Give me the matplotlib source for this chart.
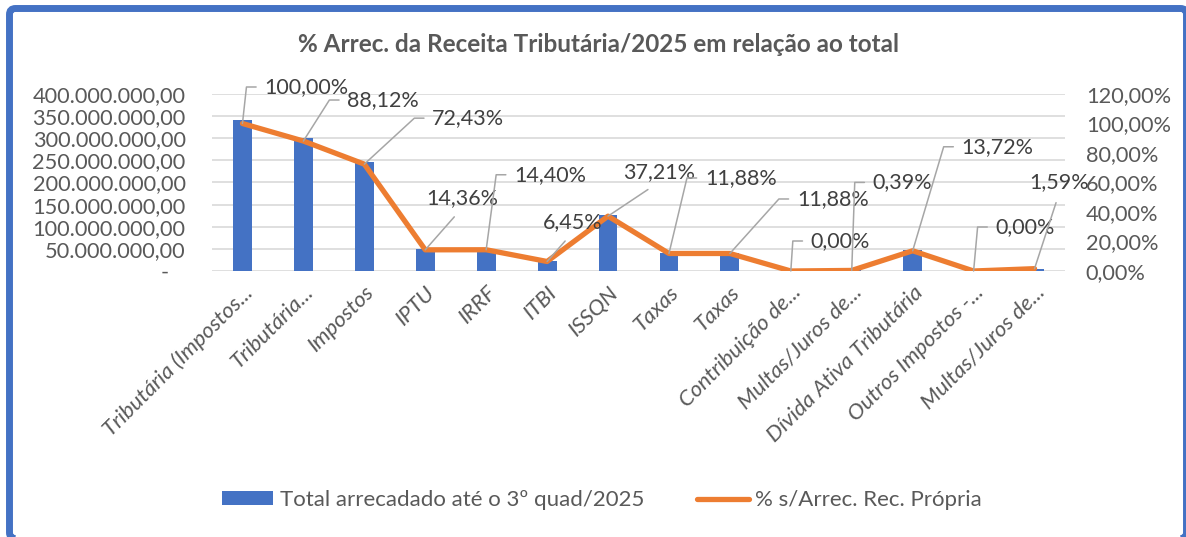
import numpy as np
import matplotlib
matplotlib.use("Agg")
import matplotlib.pyplot as plt
from matplotlib.patches import FancyBboxPatch
from matplotlib.transforms import IdentityTransform
from matplotlib.ticker import FuncFormatter

plt.rcParams['font.family'] = ['Lato', 'DejaVu Sans']

# dados
categorias = ["Tributária (Impostos...", "Tributária...", "Impostos", "IPTU", "IRRF",
              "ITBI", "ISSQN", "Taxas", "Taxas", "Contribuição de...",
              "Multas/Juros de...", "Dívida Ativa Tributária", "Outros Impostos -...",
              "Multas/Juros de..."]
total_arrecadado = [341.0e6, 300.5e6, 247.0e6, 49.0e6, 49.1e6, 22.0e6, 126.9e6,
                    40.5e6, 40.5e6, 0.0, 1.3e6, 46.8e6, 0.0, 5.4e6]
perc_rec_propria = [100.00, 88.12, 72.43, 14.36, 14.40, 6.45, 37.21,
                    11.88, 11.88, 0.00, 0.39, 13.72, 0.00, 1.59]

# posição dos rótulos (deslocamento em pixels a partir do ponto)
# (dx, dy, tipo): 'e' = linha com cotovelo, 's' = linha reta até a base do texto
rotulos_pos = [(22, 36.5, 'e'), (44, 41, 'e'), (68, 46, 'e'), (37, 52, 's'),
               (28, 75, 'e'), (26, 39.5, 's'), (51, 44, 's'), (36, 75.5, 'e'),
               (67, 54.5, 'e'), (20, 30, 'e'), (21, 88, 'e'), (49, 104, 'e'),
               (22, 44, 'e'), (25, 86.7, 's')]

azul = '#4472C4'
laranja = '#ED7D31'
cinza_txt = '#595959'
cinza_lbl = '#404040'

W, H = 1186, 537
fig = plt.figure(figsize=(W / 100, H / 100), dpi=100)

L, R, T, B = 212, 1065, 94, 271
ax = fig.add_axes([L / W, 1 - B / H, (R - L) / W, (B - T) / H])
ax2 = ax.twinx()

x = np.arange(len(categorias))

ax.bar(x, total_arrecadado, width=0.31, color=azul, zorder=2,
       label='Total arrecadado até o 3º quad/2025')
ax.set_xlim(-0.5, len(categorias) - 0.5)
ax.set_ylim(0, 400e6)
ax.set_yticks(np.arange(0, 400e6 + 1, 50e6))


def fmt_reais(v, pos):
    if v == 0:
        return '-   '
    s = f"{v:,.2f}"
    return s.replace(',', 'X').replace('.', ',').replace('X', '.')


ax.yaxis.set_major_formatter(FuncFormatter(fmt_reais))
ax.grid(axis='y', color='#D9D9D9', linewidth=1.2, zorder=0)
ax.set_axisbelow(True)
for s in ax.spines.values():
    s.set_visible(False)
for s in ax2.spines.values():
    s.set_visible(False)
ax.tick_params(axis='y', length=0, pad=19, labelsize=15.7, labelcolor=cinza_txt)
ax.set_xticks(x)
ax.set_xticklabels(categorias, rotation=45, ha='right', rotation_mode='anchor',
                   fontstyle='italic', fontsize=16, color=cinza_txt)
ax.tick_params(axis='x', length=0, pad=8)

frac = np.array(perc_rec_propria) / 100
ax2.plot(x, frac, color=laranja, linewidth=3.8, solid_joinstyle='round',
         solid_capstyle='round', zorder=3, label='% s/Arrec. Rec. Própria')
ax2.set_ylim(0, 1.2)
ax2.set_yticks(np.arange(0, 1.21, 0.2))
ax2.yaxis.set_major_formatter(FuncFormatter(lambda v, p: f"{v * 100:.2f}%".replace('.', ',')))
ax2.tick_params(axis='y', length=0, pad=15, labelsize=15.7, labelcolor=cinza_txt)

# rótulos de dados com linhas de chamada
for i, (v, (dx, dy, tipo)) in enumerate(zip(perc_rec_propria, rotulos_pos)):
    txt = f"{v:.2f}%".replace('.', ',')
    if tipo == 'e':
        ang = np.degrees(np.arctan2(dy, dx - 18))
        ax2.annotate(txt, xy=(i, v / 100), xytext=(dx, dy), textcoords='offset pixels',
                     ha='left', va='center', fontsize=15.5, color=cinza_lbl,
                     annotation_clip=False, zorder=5,
                     arrowprops=dict(arrowstyle='-', color='#A6A6A6', lw=1.1,
                                     relpos=(0, 0.5), shrinkA=4, shrinkB=0,
                                     connectionstyle=f"angle,angleA=0,angleB={ang:.2f},rad=0"))
    else:
        ax2.annotate(txt, xy=(i, v / 100), xytext=(dx, dy), textcoords='offset pixels',
                     ha='center', va='center', fontsize=15.5, color=cinza_lbl,
                     annotation_clip=False, zorder=5,
                     arrowprops=dict(arrowstyle='-', color='#A6A6A6', lw=1.1,
                                     relpos=(0.5, 0), shrinkA=6, shrinkB=0))

fig.text(598 / W, 1 - 45 / H, '% Arrec. da Receita Tributária/2025 em relação ao total',
         ha='center', va='center', fontsize=17.5, fontweight='bold', color=cinza_txt)

h1, l1 = ax.get_legend_handles_labels()
h2, l2 = ax2.get_legend_handles_labels()
fig.legend(h1 + h2, l1 + l2, loc='center', bbox_to_anchor=(602 / W, 1 - 500 / H),
           ncol=2, frameon=False, fontsize=16, labelcolor=cinza_txt,
           handlelength=2.3, handleheight=0.6, handletextpad=0.3, columnspacing=2.4)

# moldura azul do gráfico
moldura = FancyBboxPatch((9.5, -1.5), 1186.5 - 9.5, 528.5 + 1.5,
                         boxstyle="round,pad=0,rounding_size=6",
                         transform=IdentityTransform(), facecolor='none',
                         edgecolor=azul, linewidth=5.0)
fig.patches.append(moldura)

fig.savefig('out.png', dpi=100)
